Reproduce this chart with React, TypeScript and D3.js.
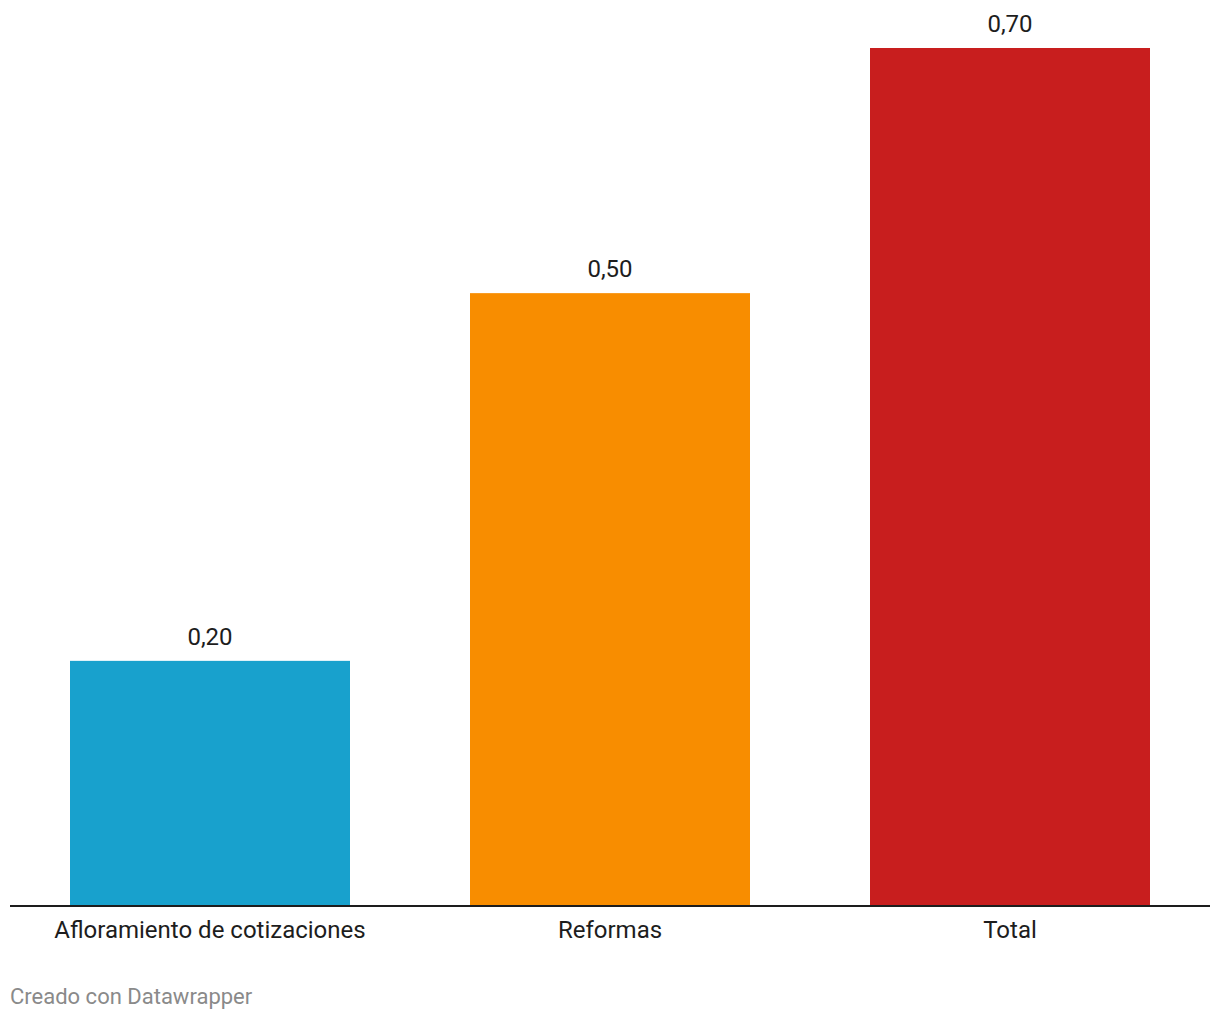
import React from "react";
import * as d3 from "d3";

const categories = ["Afloramiento de cotizaciones", "Reformas", "Total"];
const values = [0.2, 0.5, 0.7];
const colors = ["#18a1cd", "#f88d00", "#c81e1e"];
const footer = "Creado con Datawrapper";

const W = 1220;
const H = 1020;

export default function App() {
  const x = d3.scaleBand<string>().domain(categories).range([10, 1210]).paddingInner(0.3).paddingOuter(0.15);
  const y = d3.scaleLinear().domain([0, 0.7]).range([906, 48]);
  const fmt = (v: number) => d3.format(".2f")(v).replace(".", ",");
  const font = "Roboto, 'Noto Sans', sans-serif";
  return (
    <svg width={W} height={H} style={{ position: "absolute", left: 0, top: 0 }} fontFamily={font}>
      <rect width={W} height={H} fill="#fff" />
      {categories.map((c, i) => (
        <g key={c}>
          <rect x={x(c)} y={y(values[i])} width={x.bandwidth()} height={y(0) - y(values[i])} fill={colors[i]} />
          <text x={x(c)! + x.bandwidth() / 2} y={y(values[i]) - 16} textAnchor="middle" fontSize={24} fill="#1d1d1d">
            {fmt(values[i])}
          </text>
          <text x={x(c)! + x.bandwidth() / 2} y={938} textAnchor="middle" fontSize={24} fill="#1d1d1d">
            {c}
          </text>
        </g>
      ))}
      <line x1={10} x2={1210} y1={y(0)} y2={y(0)} stroke="#1d1d1d" strokeWidth={2} />
      <text x={10} y={1004} fontSize={22} fill="#8a8a8a">{footer}</text>
    </svg>
  );
}
